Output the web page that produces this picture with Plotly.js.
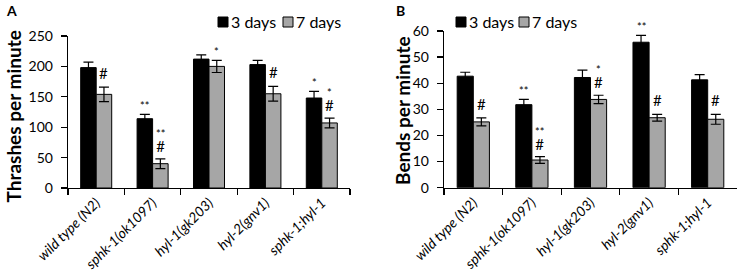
<!DOCTYPE html>
<html>
<head>
<meta charset="utf-8">
<script src="https://cdn.plot.ly/plotly-3.0.1.min.js"></script>
<style>
  body { margin: 0; background: #fff; }
  #chart { width: 741px; height: 278px; }
</style>
</head>
<body>
<div id="chart"></div>
<script>
// strains on the x axis
var categories = ['wild type (N2)', 'sphk-1(ok1097)', 'hyl-1(gk203)', 'hyl-2(gnv1)', 'sphk-1;hyl-1'];
var seriesNames = ['3 days', '7 days'];

// panel A: thrashes per minute
var thrash3 = [198, 114, 212, 203, 148];
var thrash3Err = [9, 7, 7, 7, 11];
var thrash7 = [154, 40, 200, 155, 107];
var thrash7Err = [12, 8, 10, 12, 8];
var thrash3Sig = ['', '**', '', '', '*'];
var thrash7Sig = ['#', '**#', '*', '#', '*#'];

// panel B: bends per minute
var bends3 = [42.7, 31.8, 42.2, 55.7, 41.3];
var bends3Err = [1.5, 2, 2.8, 2.6, 2];
var bends7 = [25.2, 10.6, 33.8, 26.8, 26.2];
var bends7Err = [1.5, 1.3, 1.6, 1.3, 1.9];
var bends3Sig = ['', '**', '', '**', ''];
var bends7Sig = ['#', '**#', '*#', '#', '#'];

var W = 741, H = 278;
var FONT = 'Lato, "Liberation Sans", Arial, sans-serif';
var BLACK = '#000000', GREY = '#a6a6a6';
var bargap = 0.45;
var barOffset = (1 - bargap) / 4;

function px(x) { return x / W; }
function py(y) { return 1 - y / H; }

function barTrace(vals, errs, color, xa, ya) {
    return {
        x: categories,
        y: vals,
        type: 'bar',
        xaxis: xa,
        yaxis: ya,
        showlegend: false,
        marker: { color: color, line: { color: BLACK, width: 1 } },
        error_y: { type: 'data', array: errs, visible: true, color: BLACK, thickness: 1.2, width: 5 },
        hoverinfo: 'skip'
    };
}

var data = [
    barTrace(thrash3, thrash3Err, BLACK, 'x', 'y'),
    barTrace(thrash7, thrash7Err, GREY, 'x', 'y'),
    barTrace(bends3, bends3Err, BLACK, 'x2', 'y2'),
    barTrace(bends7, bends7Err, GREY, 'x2', 'y2')
];

// significance marks above the error bars (stars stacked over # in one text)
var annotations = [];
function addSig(sigs, vals, errs, side, xr, yr) {
    for (let i = 0; i < sigs.length; i++) {
        var sig = sigs[i];
        if (!sig) continue;
        var hasHash = sig.indexOf('#') > -1;
        var stars = sig.replace('#', '');
        var text, shift;
        if (stars && hasHash) {
            text = stars + '<br><span style="font-size:15px">#</span>';
            shift = 3;
        } else if (stars) {
            text = stars;
            shift = 1;
        } else {
            text = '<span style="font-size:15px">#</span>';
            shift = 4;
        }
        annotations.push({
            x: i + side * barOffset, y: vals[i] + errs[i], xref: xr, yref: yr,
            text: text, showarrow: false, yanchor: 'bottom', yshift: shift, borderpad: 0,
            font: { family: FONT, size: 11, color: BLACK }
        });
    }
}
addSig(thrash3Sig, thrash3, thrash3Err, -1, 'x', 'y');
addSig(thrash7Sig, thrash7, thrash7Err, 1, 'x', 'y');
addSig(bends3Sig, bends3, bends3Err, -1, 'x2', 'y2');
addSig(bends7Sig, bends7, bends7Err, 1, 'x2', 'y2');

// panel letters and y titles
function label(text, x, y, size, angle) {
    annotations.push({
        x: px(x), y: py(y), xref: 'paper', yref: 'paper', text: text, showarrow: false,
        xanchor: 'center', yanchor: 'middle', textangle: angle || 0,
        font: { family: FONT, size: size, color: BLACK, weight: 'bold' }
    });
}
label('A', 11, 11, 14);
label('B', 400, 11, 14);
label('Thrashes per minute', 12.5, 117, 19, -90);
label('Bends per minute', 403, 111, 19, -90);

// hand-drawn legends (tight spacing like the original)
var shapes = [];
function legend(x0, xGrey) {
    var colors = [BLACK, GREY];
    var xs = [x0, xGrey];
    for (let k = 0; k < 2; k++) {
        shapes.push({
            type: 'rect', xref: 'paper', yref: 'paper',
            x0: px(xs[k]), x1: px(xs[k] + 10), y0: py(27), y1: py(17),
            fillcolor: colors[k], line: { color: BLACK, width: 1 }
        });
        annotations.push({
            x: px(xs[k] + 11), y: py(22), xref: 'paper', yref: 'paper', text: seriesNames[k],
            showarrow: false, xanchor: 'left', yanchor: 'middle',
            font: { family: FONT, size: 16, color: BLACK }
        });
    }
}
legend(218, 283);
legend(456, 519);

function xAxis(domain, anchor) {
    return {
        domain: domain, anchor: anchor, type: 'category', range: [-0.5, 4.5],
        showline: true, linecolor: BLACK, linewidth: 1.3,
        ticks: 'outside', tickson: 'boundaries', ticklen: 6, tickcolor: BLACK, tickwidth: 1.3,
        tickangle: -45, showgrid: false, zeroline: false,
        tickfont: { family: FONT, size: 14, color: BLACK, style: 'italic' }
    };
}
function yAxis(domain, anchor, range, dtick) {
    return {
        domain: domain, anchor: anchor, range: range, dtick: dtick,
        showline: true, linecolor: BLACK, linewidth: 1.3,
        ticks: 'outside', ticklen: 6, tickcolor: BLACK, tickwidth: 1.3,
        ticklabelstandoff: 5, showgrid: false, zeroline: false,
        tickfont: { family: FONT, size: 14, color: BLACK }
    };
}

var layout = {
    width: W, height: H,
    margin: { l: 0, r: 0, t: 0, b: 0 },
    paper_bgcolor: '#ffffff', plot_bgcolor: '#ffffff',
    barmode: 'group', bargap: bargap, bargroupgap: 0,
    showlegend: false,
    xaxis: xAxis([px(68), px(350)], 'y'),
    yaxis: yAxis([py(188), py(36)], 'x', [0, 250], 50),
    xaxis2: xAxis([px(444), px(737)], 'y2'),
    yaxis2: yAxis([py(187.7), py(31)], 'x2', [0, 60], 10),
    annotations: annotations,
    shapes: shapes
};

Plotly.newPlot('chart', data, layout, { displayModeBar: false, staticPlot: true });
</script>
</body>
</html>
